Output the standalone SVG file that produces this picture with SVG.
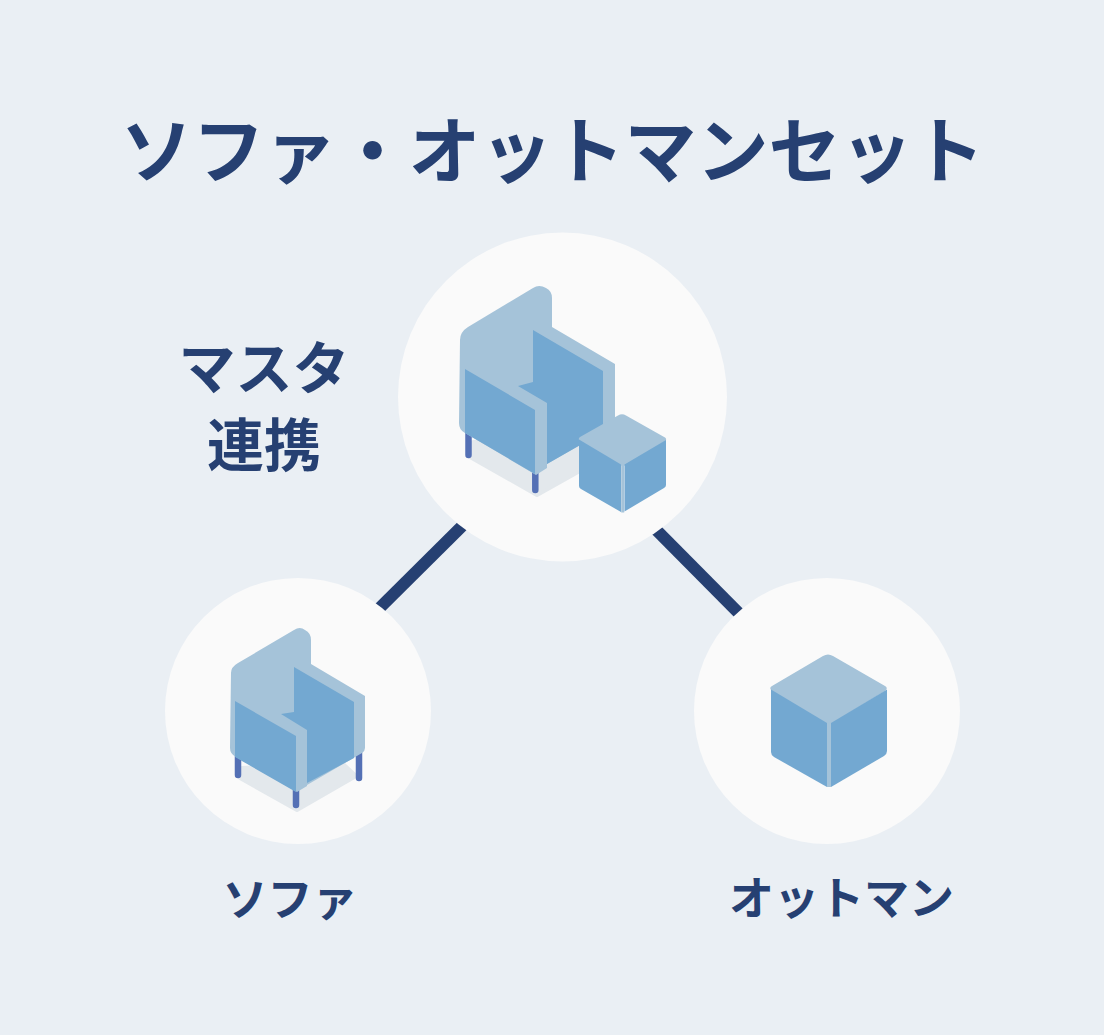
<svg xmlns="http://www.w3.org/2000/svg" width="1104" height="1035" viewBox="0 0 1104 1035">
<style>
.bg{fill:#eaeff4}.c{fill:#fafafa}.l{fill:#a5c3d9}.d{fill:#73a8d1}.s{fill:#e3e8ec;stroke:#e3e8ec;stroke-width:4;stroke-linejoin:round}.leg{stroke:#5470b5;stroke-width:6.500;stroke-linecap:round;fill:none}
text{font-family:"Noto Sans CJK JP",sans-serif;font-weight:700;fill:#264072;text-anchor:middle}
.conn{stroke:#264072;stroke-width:12;fill:none}
</style>
<rect class="bg" width="1104" height="1035"/>
<g id="connectors"><path class="conn" d="M481.300 507L360.700 626.700"/><path class="conn" d="M637.500 511L757.500 632"/></g>
<text id="title" x="552.500" y="176.500" font-size="72">ソファ・オットマンセット</text>
<g id="master"><circle class="c" cx="562.500" cy="397" r="164.500"/>
<path class="s" d="M473 442L470 457L537 495L578 472L578 440Z"/>
<path class="leg" d="M468.500 430V455M535.300 470V490"/>
<path class="l" d="M460 340Q460 332 468 327L533 288Q539 284 546 288Q552 291 552 298V327L615 364V425L547 464V468L536 475L465 433Q459 430 459 423Z"/>
<path class="d" d="M533 330L603 371V432L547 464V403L518 386L533 382Z"/>
<path class="d" d="M465 369L535 410V474L465 433Z"/>
<path class="l" d="M580 441Q577.500 439 580 437L618 415.500Q622 413 626 415.500L665 437.500Q667 439 665.500 441L624 466L622 466Z"/>
<path class="d" d="M579 439.500L621 464.500V512L581 489Q579 488 579 486Z"/><path class="d" d="M624.500 464.500L666 440V485Q666 487 664 488L624.500 511.500Z"/>
<path d="M622.700 465V512.500" stroke="#a5c3d9" stroke-width="3" fill="none"/>
<text x="264" y="389" font-size="57">マスタ</text><text x="264" y="465.500" font-size="57">連携</text></g>
<g id="sofa"><circle class="c" cx="298" cy="711" r="133"/>
<path class="s" d="M242 768L240 778L297 810L356 776L342 763Z"/>
<path class="leg" d="M238 755V775M296 790V805M359 745V778"/>
<path class="l" d="M231 673Q231 667 238 663L294 630Q300 626 305 630Q311 633 311 640V664L365 696V748Q365 751 362 753L307 785V786L297 792L236 757Q230 754 230 748Z"/>
<path class="d" d="M294 667L354 702V758L307 783V730L281 714L294 712Z"/>
<path class="d" d="M235 701L296 736V792L235 757Z"/>
<text x="290" y="916" font-size="45">ソファ</text></g>
<g id="ottoman"><circle class="c" cx="827" cy="711" r="133"/>
<path class="l" d="M772 691Q768.500 688 772 686L823 656Q828 653 833 656L885 686Q888.500 688 885 691L831 724L827 724Z"/>
<path class="d" d="M771 689.500L827 723V787L774 757Q771 755 771 752Z"/><path class="d" d="M831 723L887 689.500V751Q887 754 884 756L831 787Z"/>
<path d="M829 723V787" stroke="#a5c3d9" stroke-width="4" fill="none"/>
<text x="841.500" y="915" font-size="45">オットマン</text></g>
</svg>
